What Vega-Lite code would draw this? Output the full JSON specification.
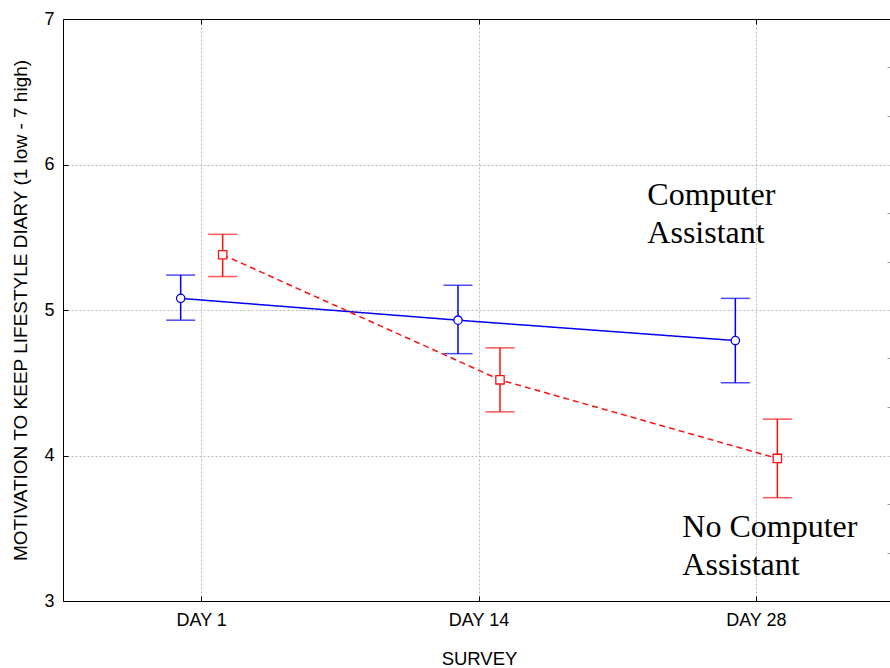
{
  "$schema": "https://vega.github.io/schema/vega-lite/v6.json",
  "width": 827,
  "height": 582,
  "autosize": "none",
  "padding": {"left": 63, "top": 19, "right": 0, "bottom": 67},
  "background": "white",
  "config": {
    "font": "Liberation Sans",
    "view": {"stroke": null},
    "axis": {"labelFont": "Liberation Sans", "titleFont": "Liberation Sans", "labelColor": "black", "titleColor": "black", "domainColor": "black", "tickColor": "black", "titleFontWeight": "normal"}
  },
  "datasets": {
    "stats": [
      {"group": "Computer Assistant", "day": "DAY 1", "mean": 5.08, "low": 4.93, "high": 5.24},
      {"group": "Computer Assistant", "day": "DAY 14", "mean": 4.93, "low": 4.70, "high": 5.17},
      {"group": "Computer Assistant", "day": "DAY 28", "mean": 4.79, "low": 4.50, "high": 5.08},
      {"group": "No Computer Assistant", "day": "DAY 1", "mean": 5.38, "low": 5.23, "high": 5.52},
      {"group": "No Computer Assistant", "day": "DAY 14", "mean": 4.52, "low": 4.30, "high": 4.74},
      {"group": "No Computer Assistant", "day": "DAY 28", "mean": 3.98, "low": 3.71, "high": 4.25}
    ],
    "labels1": [
      {"day": "DAY 28", "y": 5.79, "text": "Computer"},
      {"day": "DAY 28", "y": 5.53, "text": "Assistant"}
    ],
    "labels2": [
      {"day": "DAY 28", "y": 3.51, "text": "No Computer"},
      {"day": "DAY 28", "y": 3.25, "text": "Assistant"}
    ]
  },
  "resolve": {"axis": {"x": "independent", "y": "independent"}},
  "layer": [
    {
      "data": {"name": "stats"},
      "mark": {"type": "rule", "strokeWidth": 1.5},
      "encoding": {
        "x": {"field": "day", "type": "nominal", "sort": ["DAY 1", "DAY 14", "DAY 28"],
              "scale": {"type": "band", "domain": ["DAY 1", "DAY 14", "DAY 28"], "range": [0, 832], "paddingInner": 0, "paddingOuter": 0},
              "axis": {"orient": "bottom", "title": "SURVEY", "labelAngle": 0, "labelFontSize": 18, "titleFontSize": 18.5, "labelPadding": 15, "titlePadding": 20, "tickSize": -5, "grid": true, "gridDash": [2, 2], "gridColor": "#b8b8b8"}},
        "xOffset": {"field": "group", "type": "nominal", "scale": {"type": "point", "domain": ["Computer Assistant", "No Computer Assistant"], "range": [117.67, 159.67], "padding": 0}},
        "y": {"field": "low", "type": "quantitative", "scale": {"domain": [3, 7], "nice": false, "zero": false},
              "axis": {"orient": "left", "values": [3, 4, 5, 6, 7], "title": "MOTIVATION TO KEEP LIFESTYLE DIARY (1 low - 7 high)", "labelFontSize": 18, "titleFontSize": 19, "labelPadding": 14, "titlePadding": 13, "tickSize": -5, "grid": true, "gridDash": [2, 2], "gridColor": "#b8b8b8"}},
        "y2": {"field": "high"},
        "color": {"field": "group", "type": "nominal", "scale": {"domain": ["Computer Assistant", "No Computer Assistant"], "range": ["#0000f0", "#ff1010"]}, "legend": null}
      }
    },
    {
      "data": {"name": "stats"},
      "mark": {"type": "tick", "orient": "horizontal", "size": 29, "thickness": 1.5},
      "encoding": {
        "x": {"field": "day", "type": "nominal", "axis": {"orient": "top", "title": null, "labels": false, "tickSize": -5, "grid": false}},
        "xOffset": {"field": "group", "type": "nominal"},
        "y": {"field": "low", "type": "quantitative", "axis": {"orient": "right", "values": [3.333, 3.667, 4.333, 4.667, 5.333, 5.667, 6.333, 6.667], "labels": false, "title": null, "domain": false, "tickSize": -3, "tickColor": "#999999", "grid": false}},
        "color": {"field": "group", "type": "nominal", "legend": null}
      }
    },
    {
      "data": {"name": "stats"},
      "mark": {"type": "tick", "orient": "horizontal", "size": 29, "thickness": 1.5},
      "encoding": {
        "x": {"field": "day", "type": "nominal", "axis": null},
        "xOffset": {"field": "group", "type": "nominal"},
        "y": {"field": "high", "type": "quantitative", "axis": null},
        "color": {"field": "group", "type": "nominal", "legend": null}
      }
    },
    {
      "data": {"name": "stats"},
      "mark": {"type": "line", "strokeWidth": 1.5},
      "encoding": {
        "x": {"field": "day", "type": "nominal", "axis": null},
        "xOffset": {"field": "group", "type": "nominal"},
        "y": {"field": "mean", "type": "quantitative", "axis": null},
        "color": {"field": "group", "type": "nominal", "legend": null},
        "strokeDash": {"field": "group", "type": "nominal", "scale": {"domain": ["Computer Assistant", "No Computer Assistant"], "range": [[1, 0], [6, 4]]}, "legend": null}
      }
    },
    {
      "data": {"name": "stats"},
      "mark": {"type": "point", "filled": false, "fill": "white", "fillOpacity": 1, "strokeWidth": 1.3, "opacity": 1},
      "encoding": {
        "x": {"field": "day", "type": "nominal", "axis": null},
        "xOffset": {"field": "group", "type": "nominal"},
        "y": {"field": "mean", "type": "quantitative", "axis": null},
        "color": {"field": "group", "type": "nominal", "legend": null},
        "shape": {"field": "group", "type": "nominal", "scale": {"domain": ["Computer Assistant", "No Computer Assistant"], "range": ["circle", "square"]}, "legend": null},
        "size": {"value": 70}
      }
    },
    {
      "data": {"name": "labels1"},
      "mark": {"type": "text", "align": "left", "baseline": "middle", "dx": -109, "font": "Liberation Serif", "fontSize": 32, "color": "black"},
      "encoding": {
        "x": {"field": "day", "type": "nominal", "axis": null},
        "y": {"field": "y", "type": "quantitative", "axis": null},
        "text": {"field": "text"}
      }
    },
    {
      "data": {"name": "labels2"},
      "mark": {"type": "text", "align": "left", "baseline": "middle", "dx": -74, "font": "Liberation Serif", "fontSize": 32, "color": "black"},
      "encoding": {
        "x": {"field": "day", "type": "nominal", "axis": null},
        "y": {"field": "y", "type": "quantitative", "axis": null},
        "text": {"field": "text"}
      }
    }
  ]
}
